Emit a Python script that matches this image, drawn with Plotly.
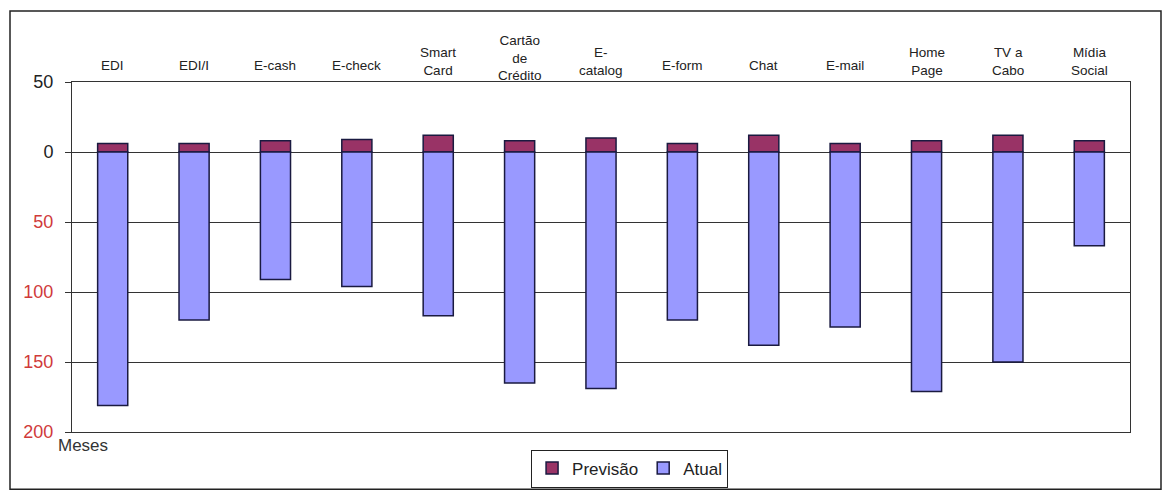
import plotly.graph_objects as go

# Canais de comércio eletrônico
categorias = ["EDI", "EDI/I", "E-cash", "E-check", "Smart<br>Card",
              "Cartão<br>de<br>Crédito", "E-<br>catalog", "E-form", "Chat",
              "E-mail", "Home<br>Page", "TV a<br>Cabo", "Mídia<br>Social"]

previsao = [6, 6, 8, 9, 12, 8, 10, 6, 12, 6, 8, 12, 8]
atual = [-181, -120, -91, -96, -117, -165, -169, -120, -138, -125, -171, -150, -67]

tick_vals = [50, 0, -50, -100, -150, -200]
tick_text = ["50", "0",
             "<span style='color:#d03a3a'>50</span>",
             "<span style='color:#d03a3a'>100</span>",
             "<span style='color:#d03a3a'>150</span>",
             "<span style='color:#d03a3a'>200</span>"]

FONT = "Liberation Sans, Arial, sans-serif"
W, H = 1164, 499
M_L, M_R, M_T, M_B = 72, 34, 82, 62
PLOT_H = H - M_T - M_B

fig = go.Figure()
fig.add_trace(go.Bar(x=categorias, y=previsao, name="Previsão",
                     marker=dict(color="#993366", line=dict(color="#1a1a40", width=1.5)),
                     width=0.37))
fig.add_trace(go.Bar(x=categorias, y=atual, name="Atual",
                     marker=dict(color="#9999ff", line=dict(color="#1a1a40", width=1.5)),
                     width=0.37))


def label_y(text):
    # rótulos com mais linhas sobem um pouco acima da linha central
    n = text.count("<br>") + 1
    center_px = 65 - 3.5 * (n - 1)
    return (H - M_B - center_px) / PLOT_H


cat_labels = [dict(text=c, x=c, xref="x", y=label_y(c), yref="paper",
                   xanchor="center", yanchor="middle", showarrow=False,
                   font=dict(size=13.5, family=FONT, color="#222"))
              for c in categorias]

fig.update_layout(
    width=W, height=H,
    barmode="relative",
    paper_bgcolor="white", plot_bgcolor="white",
    margin=dict(l=M_L, r=M_R, t=M_T, b=M_B),
    font=dict(family=FONT, color="#222"),
    showlegend=True,
    legend=dict(orientation="h", x=0.527, xanchor="center", y=-0.05, yanchor="top",
                bordercolor="#222", borderwidth=1, font=dict(size=17, family=FONT),
                itemwidth=30, traceorder="normal"),
    xaxis=dict(showticklabels=False, showgrid=False, showline=True, mirror=True,
               linecolor="#333", linewidth=1, ticks="", fixedrange=True),
    yaxis=dict(range=[-200, 50], tickvals=tick_vals, ticktext=tick_text,
               showgrid=True, gridcolor="#333", gridwidth=1,
               zeroline=True, zerolinecolor="#333", zerolinewidth=1,
               showline=True, mirror=True, linecolor="#333", linewidth=1,
               ticks="outside", ticklen=6, tickcolor="#333", ticklabelstandoff=8,
               tickfont=dict(size=18, family=FONT, color="#222")),
    shapes=[dict(type="rect", xref="paper", yref="paper",
                 x0=-0.0586, x1=1.0293, y0=-0.1634, y1=1.2028,
                 line=dict(color="#222", width=1.5), fillcolor="rgba(0,0,0,0)",
                 layer="below")],
    annotations=cat_labels + [
        dict(text="Meses", xref="paper", yref="paper", x=-0.015, y=-0.005,
             xanchor="left", yanchor="top", showarrow=False,
             font=dict(size=17, family=FONT, color="#333"))],
)

fig.write_html("out.html")
